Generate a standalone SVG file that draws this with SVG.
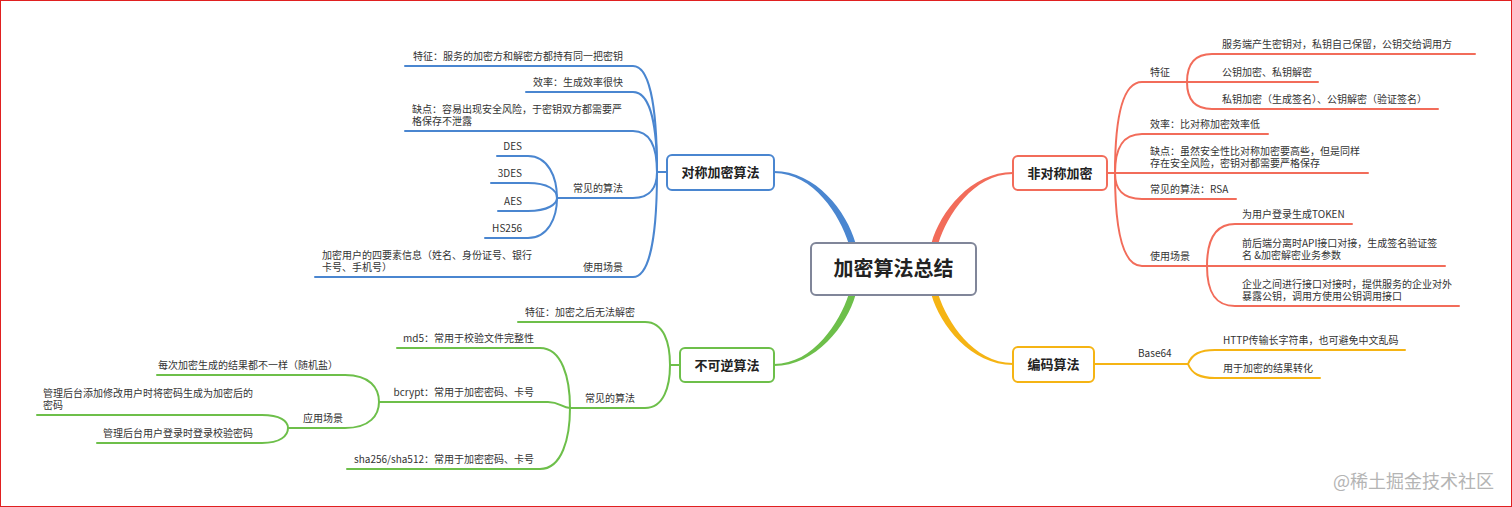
<svg xmlns="http://www.w3.org/2000/svg" width="1512" height="507" viewBox="0 0 1512 507">
<style>
text{font-family:"Noto Sans CJK SC","Noto Sans",sans-serif;font-size:10px;fill:#333}
.e{text-anchor:end}
.n{font-size:13px;font-weight:bold;fill:#222;text-anchor:middle}
.c{font-size:20px;font-weight:bold;fill:#222;text-anchor:middle}
.l{fill:none;stroke-width:2;stroke-linecap:round;stroke-linejoin:round}
.bl{stroke:#4a86d0}.gr{stroke:#6dbf4a}.rd{stroke:#f26c5a}.or{stroke:#f5b414}
.box{fill:#fff;stroke-width:2}
</style>
<rect x="0.5" y="0.5" width="1511" height="506" fill="#fff" stroke="#e02020" stroke-width="1"/>
<g id="connectors">
  <path d="M774,171 C816,171 847,212 855.5,243 L848.5,243 C840,216 814,173 774,173 Z" fill="#4a86d0"/>
  <path d="M774,364 C814,364 840,321 848.5,295 L855.5,295 C847,325 816,366 774,366 Z" fill="#6dbf4a"/>
  <path d="M1013,172 C971,172 940,212 931.5,243 L938.5,243 C947,216 973,174 1013,174 Z" fill="#f26c5a"/>
  <path d="M1013,363 C973,363 947,321 938.5,295 L931.5,295 C940,325 971,365 1013,365 Z" fill="#f5b414"/>
  <g class="l bl">
    <path d="M657,172 H667"/>
    <path d="M405,66 H633 C652,66 657,119 657,172"/>
    <path d="M526,92 H633 C652,92 657,132 657,172"/>
    <path d="M405,131 H633 C652,131 657,151 657,172"/>
    <path d="M557,198 H633 C652,198 657,185 657,172"/>
    <path d="M315,277 H633 C652,277 657,224 657,172"/>
    <path d="M497,156 H528 C548,156 557,177 557,198"/>
    <path d="M491,183 H528 C548,183 557,190 557,198"/>
    <path d="M498,211 H528 C548,211 557,204 557,198"/>
    <path d="M485,238 H528 C548,238 557,218 557,198"/>
  </g>
  <g class="l gr">
    <path d="M670,365 H680"/>
    <path d="M518,322 H645 C664,322 670,343 670,365"/>
    <path d="M570,408 H645 C664,408 670,386 670,365"/>
    <path d="M397,348 H540 C562,348 570,378 570,408"/>
    <path d="M379,402 H548 C560,402 562,408 570,408"/>
    <path d="M347,469 H540 C562,469 570,438 570,408"/>
    <path d="M157,375 H345 C370,375 379,388 379,402"/>
    <path d="M288,428 H345 C370,428 379,415 379,402"/>
    <path d="M37,415 H262 C280,415 288,421 288,428"/>
    <path d="M97,443 H262 C280,443 288,436 288,428"/>
  </g>
  <g class="l rd">
    <path d="M1107,173 H1115"/>
    <path d="M1115,173 C1115,118 1122,82 1142,82 H1187"/>
    <path d="M1115,173 C1115,149 1122,134 1142,134 H1268"/>
    <path d="M1115,173 H1368"/>
    <path d="M1115,173 C1115,189 1122,199 1142,199 H1236"/>
    <path d="M1115,173 C1115,229 1122,266 1142,266 H1207"/>
    <path d="M1187,82 C1187,64 1195,54 1212,54 H1475"/>
    <path d="M1187,82 H1318"/>
    <path d="M1187,82 C1187,100 1195,109 1212,109 H1438"/>
    <path d="M1207,266 C1207,240 1215,224 1235,224 H1352"/>
    <path d="M1207,266 H1445"/>
    <path d="M1207,266 C1207,292 1215,306 1235,306 H1459"/>
  </g>
  <g class="l or">
    <path d="M1094,364 H1188"/>
    <path d="M1188,364 C1192,354 1200,350 1215,350 H1405"/>
    <path d="M1188,364 C1192,374 1200,378 1215,378 H1320"/>
  </g>
</g>
<g id="root">
  <rect class="box" x="811" y="243" width="165" height="52" rx="5" stroke="#808699"/>
  <text class="c" x="893.5" y="276">加密算法总结</text>
</g>
<g id="sym">
  <rect class="box bl" x="667" y="155" width="107" height="35" rx="5"/>
  <text class="n" x="720.5" y="177">对称加密算法</text>
</g>
<g id="irr">
  <rect class="box gr" x="680" y="348" width="94" height="34" rx="5"/>
  <text class="n" x="727" y="370">不可逆算法</text>
</g>
<g id="asym">
  <rect class="box rd" x="1013" y="156" width="94" height="34" rx="5"/>
  <text class="n" x="1060" y="178">非对称加密</text>
</g>
<g id="enc">
  <rect class="box or" x="1013" y="347" width="81" height="35" rx="5"/>
  <text class="n" x="1053.5" y="369">编码算法</text>
</g>
<g id="sym-children">
  <g id="s1"><text class="e" x="623" y="60">特征：服务的加密方和解密方都持有同一把密钥</text></g>
  <g id="s2"><text class="e" x="623" y="86">效率：生成效率很快</text></g>
  <g id="s3"><text x="412" y="112.5">缺点：容易出现安全风险，于密钥双方都需要严</text><text x="412" y="125">格保存不泄露</text></g>
  <g id="s4"><text class="e" x="623" y="192">常见的算法</text></g>
  <g id="s4a"><text class="e" x="522" y="150">DES</text></g>
  <g id="s4b"><text class="e" x="522" y="177">3DES</text></g>
  <g id="s4c"><text class="e" x="522" y="205">AES</text></g>
  <g id="s4d"><text class="e" x="522" y="232">HS256</text></g>
  <g id="s5"><text class="e" x="623" y="271">使用场景</text></g>
  <g id="s5a"><text x="322" y="258.5">加密用户的四要素信息（姓名、身份证号、银行</text><text x="322" y="271">卡号、手机号）</text></g>
</g>
<g id="irr-children">
  <g id="i1"><text class="e" x="635" y="316">特征：加密之后无法解密</text></g>
  <g id="i2"><text class="e" x="635" y="402">常见的算法</text></g>
  <g id="i2a"><text class="e" x="534" y="342">md5：常用于校验文件完整性</text></g>
  <g id="i2b"><text class="e" x="534" y="396">bcrypt：常用于加密密码、卡号</text></g>
  <g id="i2c"><text class="e" x="534" y="463">sha256/sha512：常用于加密密码、卡号</text></g>
  <g id="i2b1"><text class="e" x="338" y="369">每次加密生成的结果都不一样（随机盐）</text></g>
  <g id="i2b2"><text class="e" x="343" y="422">应用场景</text></g>
  <g id="i2b2a"><text x="43" y="396.5">管理后台添加修改用户时将密码生成为加密后的</text><text x="43" y="409">密码</text></g>
  <g id="i2b2b"><text class="e" x="253" y="437">管理后台用户登录时登录校验密码</text></g>
</g>
<g id="asym-children">
  <g id="a1"><text x="1150" y="76">特征</text></g>
  <g id="a1a"><text x="1222" y="48">服务端产生密钥对，私钥自己保留，公钥交给调用方</text></g>
  <g id="a1b"><text x="1222" y="76">公钥加密、私钥解密</text></g>
  <g id="a1c"><text x="1222" y="103">私钥加密（生成签名）、公钥解密（验证签名）</text></g>
  <g id="a2"><text x="1150" y="128">效率：比对称加密效率低</text></g>
  <g id="a3"><text x="1150" y="154.5">缺点：虽然安全性比对称加密要高些，但是同样</text><text x="1150" y="167">存在安全风险，密钥对都需要严格保存</text></g>
  <g id="a4"><text x="1150" y="193">常见的算法：RSA</text></g>
  <g id="a5"><text x="1150" y="260">使用场景</text></g>
  <g id="a5a"><text x="1242" y="218">为用户登录生成TOKEN</text></g>
  <g id="a5b"><text x="1242" y="246.5">前后端分离时API接口对接，生成签名验证签</text><text x="1242" y="259">名 &amp;加密解密业务参数</text></g>
  <g id="a5c"><text x="1242" y="287.5">企业之间进行接口对接时，提供服务的企业对外</text><text x="1242" y="300">暴露公钥，调用方使用公钥调用接口</text></g>
</g>
<g id="enc-children">
  <g id="e1"><text x="1138" y="357">Base64</text></g>
  <g id="e1a"><text x="1223" y="344">HTTP传输长字符串，也可避免中文乱码</text></g>
  <g id="e1b"><text x="1223" y="372">用于加密的结果转化</text></g>
</g>
<g id="watermark">
  <text x="1494" y="488" style="font-size:18px;fill:#b4b4b4;text-anchor:end">@稀土掘金技术社区</text>
</g>
</svg>
